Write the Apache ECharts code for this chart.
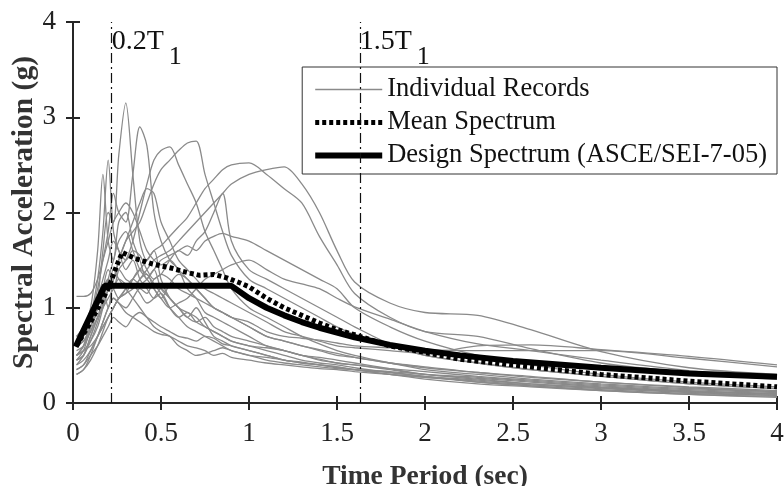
<!DOCTYPE html>
<html style="height: 100%">
<head>
<meta charset="utf-8">
<script src="https://cdn.jsdelivr.net/npm/echarts@6/dist/echarts.min.js"></script>
</head>
<body style="height: 100%; width: 100%; margin: 0; background: #fff">
<div id="container" style="height: 486px; width: 784px;"></div>
<script type="text/javascript">
// periods (sec) shared by all individual records
var periods = [0.02, 0.06, 0.1, 0.14, 0.17, 0.2, 0.23, 0.26, 0.3, 0.34, 0.38, 0.42, 0.46, 0.5, 0.55, 0.6,
	0.65, 0.7, 0.75, 0.8, 0.85, 0.9, 1.0, 1.1, 1.2, 1.3, 1.4, 1.5, 1.6, 1.8, 2.0, 2.3, 2.6, 3.0, 3.5, 4.0];

// spectral acceleration (g) of each record
var records = [
	[0.45,0.55,0.8,1.1,1.6,2.0,1.9,2.6,3.15,2.4,1.7,1.5,1.6,1.3,1.1,1.0,0.9,1.0,0.85,0.7,0.65,0.6,0.55,0.5,0.45,0.42,0.4,0.37,0.35,0.3,0.27,0.22,0.18,0.14,0.1,0.08],
	[0.6,0.7,0.9,1.2,1.5,1.8,2.2,2.0,1.9,2.4,2.9,2.7,2.0,1.7,1.5,1.4,1.2,1.1,0.95,0.9,0.85,0.8,0.7,0.6,0.55,0.5,0.48,0.45,0.42,0.36,0.3,0.25,0.2,0.16,0.12,0.09],
	[0.5,0.6,0.8,1.0,1.2,1.4,1.3,1.5,1.7,1.8,1.9,2.1,2.3,2.45,2.55,2.65,2.73,2.75,2.4,2.1,1.8,1.55,1.3,1.2,1.1,1.0,0.9,0.8,0.72,0.6,0.5,0.42,0.35,0.28,0.2,0.15],
	[0.4,0.5,0.7,0.9,1.1,1.3,1.2,1.4,1.5,1.7,2.0,2.3,2.55,2.65,2.69,2.5,2.3,2.1,1.8,1.6,1.4,1.2,1.0,0.9,0.8,0.7,0.62,0.55,0.5,0.42,0.35,0.3,0.25,0.2,0.15,0.12],
	[0.35,0.4,0.55,0.7,0.8,0.9,1.0,1.1,1.2,1.3,1.4,1.5,1.6,1.65,1.75,1.85,1.95,2.1,2.25,2.35,2.45,2.5,2.52,2.4,2.25,2.1,1.75,1.45,1.15,0.9,0.75,0.7,0.57,0.42,0.32,0.25],
	[0.5,0.55,0.6,0.7,0.8,0.9,1.0,1.1,1.15,1.2,1.3,1.4,1.5,1.55,1.6,1.7,1.8,1.9,2.0,2.1,2.2,2.3,2.4,2.45,2.48,2.3,2.0,1.6,1.27,1.05,0.95,0.92,0.77,0.54,0.37,0.3],
	[0.3,0.35,0.5,0.7,0.85,1.0,1.1,1.05,1.0,1.1,1.2,1.15,1.3,1.35,1.5,1.6,1.55,1.7,1.8,2.0,2.2,1.7,1.4,1.3,1.2,1.1,1.0,0.9,0.8,0.62,0.5,0.42,0.35,0.28,0.2,0.15],
	[0.5,0.6,0.9,1.3,1.8,2.55,1.8,1.6,1.4,1.5,1.3,1.2,1.1,1.15,1.0,0.9,0.95,0.85,0.8,0.75,0.7,0.65,0.6,0.55,0.5,0.45,0.42,0.4,0.37,0.32,0.28,0.22,0.18,0.13,0.09,0.07],
	[0.7,0.8,1.0,1.6,2.4,1.7,1.5,1.9,2.0,1.7,1.5,1.3,1.4,1.2,1.1,1.0,0.9,0.85,0.9,0.8,0.75,0.7,0.65,0.6,0.55,0.5,0.45,0.42,0.4,0.35,0.3,0.26,0.22,0.17,0.12,0.1],
	[1.12,1.12,1.15,1.3,1.5,1.7,1.9,2.0,2.1,2.0,1.8,1.6,1.5,1.45,1.5,1.4,1.3,1.2,1.1,1.0,0.95,0.9,0.8,0.7,0.65,0.6,0.56,0.52,0.48,0.42,0.37,0.32,0.27,0.22,0.16,0.12],
	[0.45,0.5,0.7,0.9,1.0,1.2,1.3,1.5,1.7,1.9,2.1,2.25,2.2,1.9,1.7,1.5,1.4,1.3,1.2,1.15,1.1,1.05,0.95,0.85,0.75,0.7,0.65,0.6,0.58,0.55,0.52,0.6,0.61,0.56,0.49,0.4],
	[0.6,0.65,0.8,1.0,1.2,1.3,1.2,1.1,1.2,1.3,1.25,1.3,1.4,1.5,1.55,1.6,1.65,1.6,1.7,1.75,1.78,1.75,1.7,1.6,1.5,1.4,1.3,1.2,1.0,0.8,0.65,0.5,0.4,0.3,0.22,0.17],
	[0.55,0.6,0.75,0.9,1.0,1.1,1.2,1.3,1.25,1.2,1.3,1.35,1.2,1.1,1.0,1.05,1.1,1.2,1.3,1.35,1.4,1.45,1.5,1.4,1.3,1.25,1.2,1.1,1.01,0.88,0.75,0.62,0.55,0.45,0.34,0.27],
	[0.35,0.4,0.5,0.6,0.7,0.8,0.9,0.85,0.8,0.9,0.95,0.9,0.85,0.8,0.75,0.7,0.68,0.65,0.7,0.68,0.62,0.6,0.55,0.5,0.45,0.42,0.4,0.38,0.35,0.3,0.25,0.2,0.17,0.13,0.09,0.06],
	[0.4,0.45,0.55,0.7,0.85,1.0,1.1,1.05,0.95,0.9,0.85,0.8,0.75,0.72,0.7,0.65,0.6,0.58,0.55,0.5,0.52,0.48,0.45,0.42,0.4,0.38,0.36,0.35,0.33,0.3,0.27,0.23,0.19,0.15,0.11,0.08],
	[0.5,0.55,0.65,0.8,1.0,1.2,1.4,1.3,1.2,1.1,1.0,0.9,0.8,0.75,0.7,0.6,0.55,0.5,0.52,0.55,0.58,0.55,0.5,0.48,0.45,0.43,0.4,0.38,0.35,0.32,0.28,0.24,0.2,0.16,0.12,0.09],
	[0.7,0.75,0.9,1.1,1.3,1.5,1.7,1.6,1.5,1.6,1.55,1.4,1.3,1.35,1.3,1.2,1.15,1.1,1.05,1.0,0.95,0.9,0.8,0.7,0.65,0.6,0.55,0.5,0.48,0.42,0.38,0.32,0.28,0.22,0.17,0.13],
	[0.45,0.5,0.65,0.85,1.05,1.3,1.5,1.7,1.8,1.6,1.4,1.3,1.2,1.1,1.25,1.35,1.3,1.2,1.1,1.0,0.95,0.9,0.85,0.75,0.7,0.68,0.66,0.63,0.6,0.58,0.56,0.55,0.55,0.55,0.47,0.38],
	[0.3,0.35,0.45,0.6,0.75,0.9,1.0,1.1,1.15,1.3,1.4,1.35,1.25,1.15,1.0,0.9,0.8,0.75,0.7,0.65,0.6,0.55,0.5,0.45,0.42,0.4,0.38,0.36,0.35,0.33,0.3,0.27,0.23,0.18,0.13,0.1],
	[0.6,0.65,0.75,1.0,1.2,1.0,1.3,1.4,1.3,1.25,1.15,1.05,1.1,1.2,1.1,1.0,0.95,0.9,0.8,0.75,0.7,0.65,0.6,0.58,0.55,0.5,0.46,0.42,0.4,0.36,0.33,0.28,0.24,0.19,0.14,0.11]
];

// mean spectrum [period, Sa]
var meanSpectrum = [[0.02,0.6],[0.1,0.85],[0.2,1.2],[0.25,1.45],[0.28,1.58],[0.35,1.52],[0.45,1.46],
	[0.55,1.42],[0.65,1.37],[0.72,1.34],[0.8,1.35],[0.88,1.31],[0.95,1.26],[1.0,1.22],[1.1,1.1],
	[1.2,1.0],[1.3,0.92],[1.4,0.84],[1.5,0.77],[1.63,0.7],[1.8,0.6],[2.0,0.53],[2.2,0.46],
	[2.5,0.4],[3.0,0.3],[3.5,0.23],[4.0,0.17]];

// design spectrum (ASCE/SEI-7-05) [period, Sa]
var designSpectrum = [[0.015,0.59],[0.18,1.23],[0.9,1.23],[1.0,1.1],[1.1,1.0],[1.2,0.92],[1.3,0.85],
	[1.4,0.79],[1.6,0.69],[1.8,0.61],[2.0,0.55],[2.2,0.5],[2.5,0.44],[3.0,0.37],[3.5,0.31],[4.0,0.275]];

var refLines = [0.217, 1.626];
var refLabels = ['0.2T', '1.5T'];

var serif = 'Liberation Serif';
var dom = document.getElementById('container');
var myChart = echarts.init(dom);

var series = [];
for (var r = 0; r < records.length; r++) {
	series.push({
		name: 'Individual Records',
		type: 'line',
		showSymbol: false,
		symbol: 'none',
		smooth: 0.3,
		silent: true,
		itemStyle: { color: '#8a8a8a' },
		lineStyle: { color: '#8a8a8a', width: 1.3 },
		data: periods.map(function (t, i) { return [t, records[r][i]]; }),
		z: 2
	});
}
// reference lines 0.2T1 / 1.5T1
series[0].markLine = {
	silent: true,
	symbol: 'none',
	label: { show: false },
	lineStyle: { color: '#111', width: 1.2, type: [10, 4, 2, 4] },
	data: refLines.map(function (v) { return { xAxis: v }; })
};
series[0].markPoint = {
	silent: true,
	symbol: 'circle',
	symbolSize: 1,
	itemStyle: { color: 'rgba(0,0,0,0)' },
	label: {
		show: true,
		position: [1, 6],
		formatter: function (p) { return '{a|' + p.name + '}{s|1}'; },
		rich: {
			a: { fontFamily: serif, fontSize: 28, color: '#111', verticalAlign: 'top' },
			s: { fontFamily: serif, fontSize: 26, color: '#111', padding: [17, 0, 0, 5] }
		}
	},
	data: refLines.map(function (v, i) { return { name: refLabels[i], coord: [v, 4] }; })
};

series.push({
	name: 'Mean Spectrum',
	type: 'line',
	symbol: 'none',
	itemStyle: { color: '#000' },
	lineStyle: { color: '#000', width: 5, type: [4, 3] },
	data: meanSpectrum,
	z: 4
});
series.push({
	name: 'Design Spectrum (ASCE/SEI-7-05)',
	type: 'line',
	symbol: 'none',
	itemStyle: { color: '#000' },
	lineStyle: { color: '#000', width: 6 },
	data: designSpectrum,
	z: 5
});

var axisLine = { show: true, lineStyle: { color: '#262626', width: 2 } };
var tickStyle = { show: true, inside: true, length: 7, lineStyle: { color: '#262626', width: 2 } };

option = {
	backgroundColor: '#fff',
	animation: false,
	grid: { left: 73, right: 7, top: 22, bottom: 83, outerBoundsMode: 'none', containLabel: false },
	legend: {
		right: 7,
		top: 67,
		orient: 'vertical',
		itemWidth: 67,
		itemHeight: 14,
		itemGap: 6,
		padding: [9, 10, 5, 10],
		borderColor: '#333',
		borderWidth: 1,
		backgroundColor: '#fff',
		itemStyle: { opacity: 0 },
		textStyle: { fontFamily: serif, fontSize: 26.5, color: '#111' },
		data: [
			{ name: 'Individual Records', lineStyle: { color: '#8a8a8a', width: 1.3 } },
			{ name: 'Mean Spectrum', lineStyle: { color: '#000', width: 5, type: [4, 3] } },
			{ name: 'Design Spectrum (ASCE/SEI-7-05)', lineStyle: { color: '#000', width: 6 } }
		]
	},
	xAxis: [{
		type: 'value', min: 0, max: 4, interval: 0.5,
		name: 'Time Period (sec)', nameLocation: 'middle', nameGap: 60, nameMoveOverlap: false,
		nameTextStyle: { fontFamily: serif, fontSize: 27.5, fontWeight: 'bold', color: '#333' },
		axisLine: axisLine, axisTick: tickStyle, splitLine: { show: false },
		axisLabel: { fontFamily: serif, fontSize: 27, color: '#222', margin: 17 }
	}, {
		type: 'value', position: 'top', min: 0, max: 4, interval: 0.5,
		axisLine: axisLine, axisTick: tickStyle, axisLabel: { show: false }, splitLine: { show: false }
	}],
	yAxis: [{
		type: 'value', min: 0, max: 4, interval: 1,
		name: 'Spectral Acceleration (g)', nameLocation: 'middle', nameGap: 34, nameMoveOverlap: false,
		nameTextStyle: { fontFamily: serif, fontSize: 29.5, fontWeight: 'bold', color: '#333' },
		axisLine: axisLine, axisTick: tickStyle, splitLine: { show: false },
		axisLabel: { fontFamily: serif, fontSize: 27, color: '#222', margin: 17 }
	}, {
		type: 'value', position: 'right', min: 0, max: 4, interval: 1,
		axisLine: axisLine, axisTick: tickStyle, axisLabel: { show: false }, splitLine: { show: false }
	}],
	series: series
};

myChart.setOption(option);
</script>
</body>
</html>
